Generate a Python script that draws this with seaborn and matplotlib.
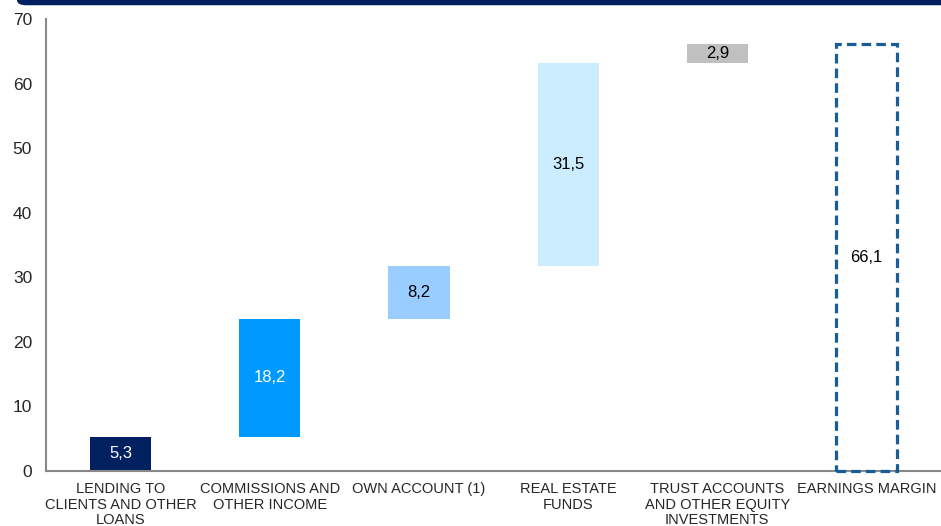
import numpy as np
import pandas as pd
import matplotlib
matplotlib.use("Agg")
import matplotlib.pyplot as plt
import seaborn as sns
from matplotlib.patches import FancyBboxPatch

sns.set_style("white")
plt.rcParams['font.family'] = ['Liberation Sans', 'DejaVu Sans']

# 数据
categories = ["LENDING TO\nCLIENTS AND OTHER\nLOANS", "COMMISSIONS AND\nOTHER INCOME",
              "OWN ACCOUNT (1)", "REAL ESTATE\nFUNDS",
              "TRUST ACCOUNTS\nAND OTHER EQUITY\nINVESTMENTS", "EARNINGS MARGIN"]
values = [5.3, 18.2, 8.2, 31.5, 2.9, 66.1]
value_labels = ["5,3", "18,2", "8,2", "31,5", "2,9", "66,1"]
bar_colors = ["#002060", "#0099FF", "#99CCFF", "#CCECFF", "#C0C0C0", "none"]
label_colors = ["white", "white", "black", "black", "black", "black"]

# 瀑布图的起点
steps = values[:-1]
bottoms = list(np.concatenate([[0], np.cumsum(steps)[:-1]])) + [0]

df = pd.DataFrame({"cat": categories, "val": values})

fig = plt.figure(figsize=(9.41, 5.26), dpi=100)
ax = fig.add_axes([0.0489, 0.1046, 0.9511, 0.8593])

sns.barplot(data=df, x="cat", y="val", bottom=bottoms, width=0.41,
            color="#002060", errorbar=None, ax=ax, linewidth=0)

for i, p in enumerate(ax.patches):
    if bar_colors[i] == "none":
        p.set_facecolor("none")
        p.set_edgecolor("#185C98")
        p.set_linewidth(2.3)
        p.set_linestyle((0, (3, 1.6)))
        p.set_zorder(5)
        p.set_clip_on(False)
    else:
        p.set_facecolor(bar_colors[i])
    ax.text(i, bottoms[i] + values[i] / 2, value_labels[i], ha="center", va="center",
            fontsize=12, color=label_colors[i])

ax.set_ylim(0, 70)
ax.set_xlim(-0.5, 5.5)
ax.set_yticks(range(0, 71, 10))
ax.set_xlabel("")
ax.set_ylabel("")
ax.tick_params(axis="y", labelsize=12.5, length=5, color="#888888", pad=5)
ax.tick_params(axis="x", which="major", length=0, labelsize=10.5, pad=8)
ax.set_xticks(np.arange(-0.5, 6, 1), minor=True)
ax.tick_params(axis="x", which="minor", length=5, color="#888888")
for lab in ax.get_xticklabels():
    lab.set_linespacing(1.15)

sns.despine(ax=ax)
for s in ["left", "bottom"]:
    ax.spines[s].set_color("#888888")
    ax.spines[s].set_linewidth(1.5)

# 顶部深蓝色横条
fig.patches.append(FancyBboxPatch((0.018, 0.99), 1.1, 0.05, boxstyle="round,pad=0,rounding_size=0.01",
                                  transform=fig.transFigure, facecolor="#002060",
                                  edgecolor="none", figure=fig))

plt.savefig("out.png", dpi=100)
plt.close()
